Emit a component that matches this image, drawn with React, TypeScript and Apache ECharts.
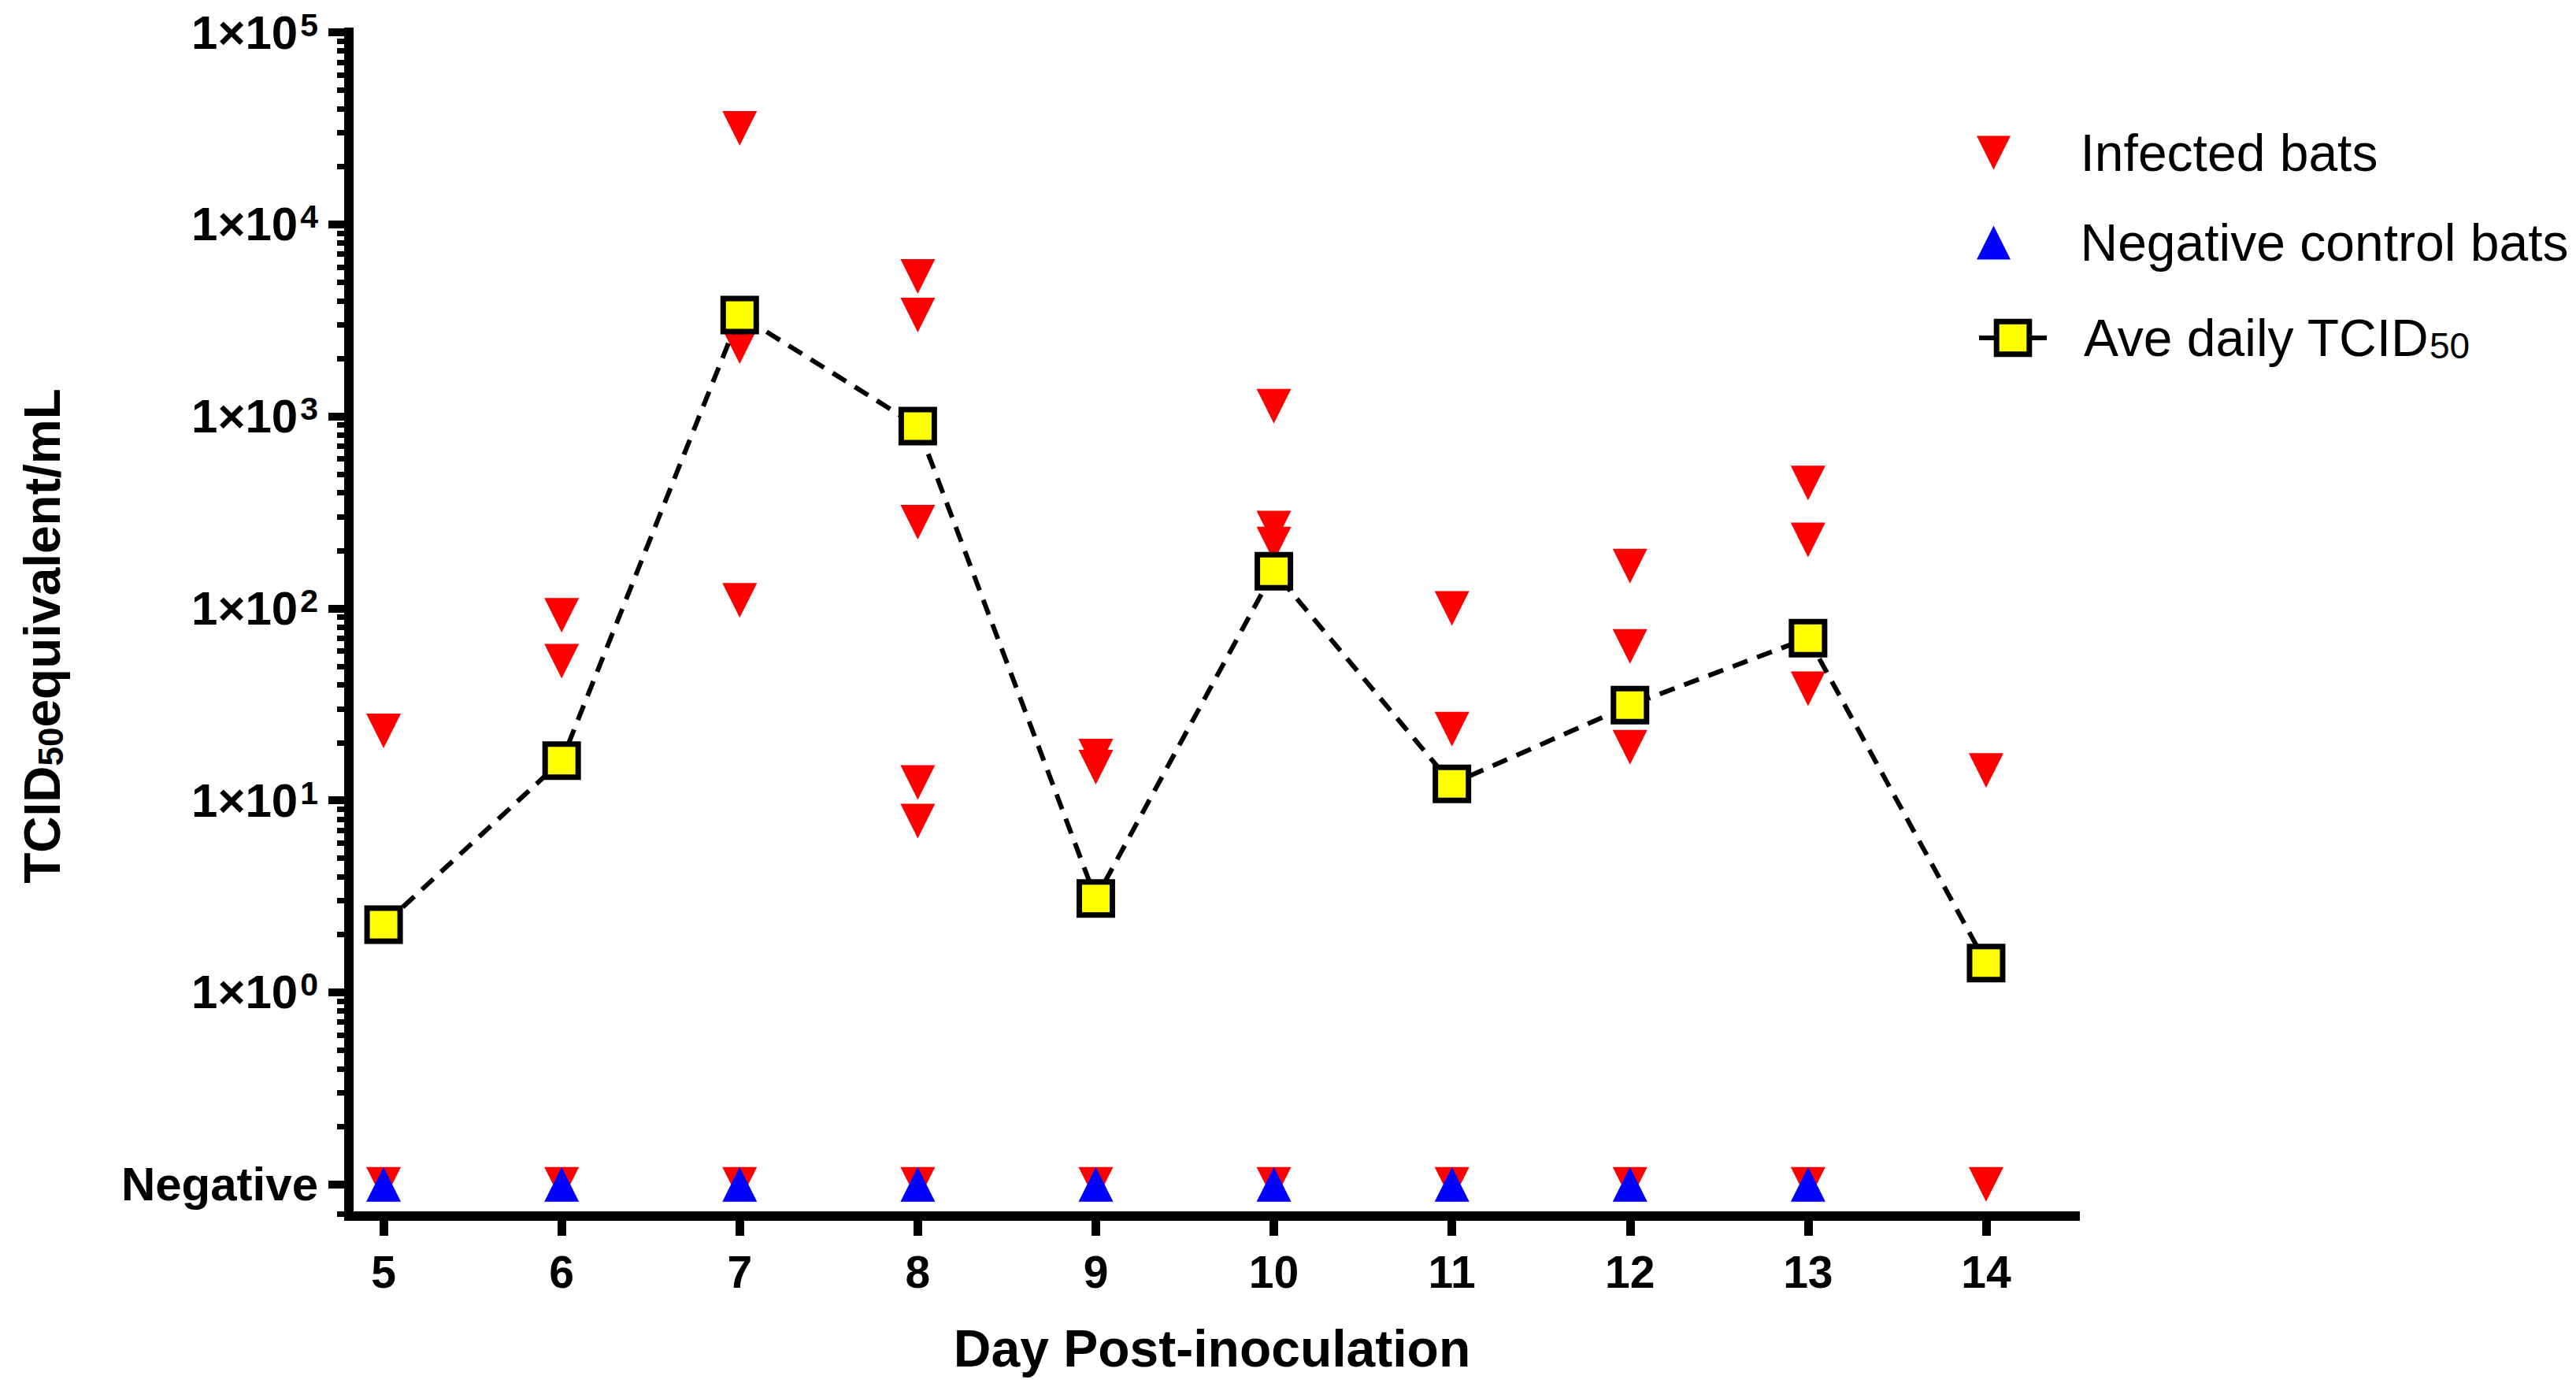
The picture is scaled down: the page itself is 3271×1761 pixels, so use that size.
import React, { useEffect, useRef } from "react";
import * as echarts from "echarts";

// ---- data ----
const days = [5, 6, 7, 8, 9, 10, 11, 12, 13, 14];
// TCID50 equivalent/mL per infected bat; 0 = Negative
const infectedByDay: number[][] = [
  [23, 0],
  [92, 53, 0],
  [31600, 2310, 110, 0],
  [5350, 3370, 281, 12.4, 7.8, 0],
  [17, 14.9, 0],
  [1130, 262, 216, 0],
  [100, 23.5, 0],
  [166, 63.4, 18.9, 0],
  [449, 227, 38.1, 0],
  [14.3, 0],
];
const controlDays = [5, 6, 7, 8, 9, 10, 11, 12, 13];
const controlValues = [0, 0, 0, 0, 0, 0, 0, 0, 0];
const averageDaily = [2.25, 16.1, 3370, 889, 3.08, 156, 12.2, 31.3, 70, 1.42];
const yTickExponents = [-1, 0, 1, 2, 3, 4, 5]; // -1 stands for "Negative"
const negativeLabel = "Negative";

const NEG_LOG = -1;
const toLog = (v: number) => (v > 0 ? Math.log10(v) : NEG_LOG);

const FONT = "'Liberation Sans', Arial, Helvetica, sans-serif";
const DOWN_TRI = "path://M0,0L10,0L5,10Z";
const UP_TRI = "path://M5,0L10,10L0,10Z";
const DASH = [20, 13];

function buildMinorTicks(): number[] {
  const out: number[] = [];
  for (let e = -1; e < 5; e++) {
    for (let k = 2; k <= 9; k++) out.push(Math.log10(k) + e);
  }
  out.push(Math.log10(0.07));
  return out;
}

export default function App() {
  const ref = useRef<HTMLDivElement>(null);
  useEffect(() => {
    if (!ref.current) return;
    const chart = echarts.init(ref.current, undefined, { renderer: "svg" });

    const infectedData: number[][] = [];
    days.forEach((d, i) => {
      infectedByDay[i].forEach((v) => infectedData.push([d, toLog(v)]));
    });
    const controlData = controlDays.map((d, i) => [d, toLog(controlValues[i])]);
    const avgData = days.map((d, i) => [d, toLog(averageDaily[i])]);

    const yMin = -1.165;
    const yMax = 5;

    const legendText = (pad: number, extra: any = {}) => ({
      fontFamily: FONT,
      fontSize: 66,
      lineHeight: 66,
      color: "#000",
      padding: [0, 0, 0, pad],
      ...extra,
    });

    const option: any = {
      animation: false,
      backgroundColor: "#ffffff",
      grid: { left: 443, top: 41, width: 2192, height: 1503, containLabel: false },
      xAxis: {
        type: "value",
        min: 4.805,
        max: 14.5,
        name: "Day Post-inoculation",
        nameLocation: "middle",
        nameGap: 135,
        nameTextStyle: { fontFamily: FONT, fontWeight: "bold", fontSize: 66, color: "#000" },
        axisLine: { show: true, onZero: false, lineStyle: { color: "#000", width: 12, cap: "square" } },
        axisTick: {
          show: true,
          length: 25,
          lineStyle: { color: "#000", width: 11 },
          customValues: days,
        },
        axisLabel: {
          show: true,
          margin: 42,
          fontFamily: FONT,
          fontWeight: "bold",
          fontSize: 57,
          color: "#000",
          customValues: days,
          formatter: (v: number) => String(Math.round(v)),
        },
        splitLine: { show: false },
      },
      yAxis: [
        {
          type: "value",
          min: yMin,
          max: yMax,
          name: "{m|TCID}{sub|50}{m|equivalent/mL}",
          nameLocation: "middle",
          nameRotate: 90,
          nameGap: 357,
          nameTextStyle: {
            fontFamily: FONT,
            fontWeight: "bold",
            fontSize: 64,
            color: "#000",
            padding: [0, 30, 0, 0],
            rich: {
              m: { fontFamily: FONT, fontWeight: "bold", fontSize: 64, lineHeight: 64, color: "#000" },
              sub: {
                fontFamily: FONT,
                fontWeight: "bold",
                fontSize: 44,
                lineHeight: 14,
                verticalAlign: "bottom",
                color: "#000",
              },
            },
          },
          axisLine: { show: true, onZero: false, lineStyle: { color: "#000", width: 12, cap: "square" } },
          axisTick: {
            show: true,
            length: 26,
            lineStyle: { color: "#000", width: 10 },
            customValues: yTickExponents,
          },
          axisLabel: {
            show: true,
            margin: 39,
            color: "#000",
            customValues: yTickExponents,
            formatter: (v: number) => {
              const e = Math.round(v);
              if (e === NEG_LOG) return `{m|${negativeLabel}}`;
              return `{m|1×10}{sup|${e}}`;
            },
            rich: {
              m: { fontFamily: FONT, fontWeight: "bold", fontSize: 60, lineHeight: 60, color: "#000" },
              sup: {
                fontFamily: FONT,
                fontWeight: "bold",
                fontSize: 41,
                lineHeight: 40,
                verticalAlign: "top",
                color: "#000",
                padding: [0, 0, 0, 3],
              },
            },
          },
          splitLine: { show: false },
        },
        {
          type: "value",
          min: yMin,
          max: yMax,
          position: "left",
          axisLine: { show: false, onZero: false },
          axisTick: {
            show: true,
            length: 15,
            lineStyle: { color: "#000", width: 7 },
            customValues: buildMinorTicks(),
          },
          axisLabel: { show: false },
          splitLine: { show: false },
        },
      ],
      legend: [
        {
          data: ["Infected bats"],
          orient: "vertical",
          left: 2505,
          top: 156,
          itemWidth: 86,
          itemHeight: 43,
          selectedMode: false,
          textStyle: legendText(62),
        },
        {
          data: ["Negative control bats"],
          orient: "vertical",
          left: 2505,
          top: 270,
          itemWidth: 86,
          itemHeight: 43,
          selectedMode: false,
          textStyle: legendText(62),
        },
        {
          data: ["Ave daily TCID50"],
          orient: "vertical",
          left: 2505,
          top: 391,
          itemWidth: 86,
          itemHeight: 52,
          selectedMode: false,
          formatter: () => "Ave daily TCID{sub|50}",
          itemStyle: { color: "#ffff00", borderColor: "#000", borderWidth: 7 },
          lineStyle: { color: "#000", width: 6, type: DASH },
          textStyle: legendText(42, {
            rich: {
              sub: { fontFamily: FONT, fontSize: 46, lineHeight: 14, verticalAlign: "bottom", color: "#000" },
            },
          }),
        },
      ],
      series: [
        {
          name: "Infected bats",
          type: "scatter",
          yAxisIndex: 0,
          symbol: DOWN_TRI,
          symbolSize: 44,
          itemStyle: { color: "#ff0000", opacity: 1 },
          data: infectedData,
          z: 2,
        },
        {
          name: "Negative control bats",
          type: "scatter",
          yAxisIndex: 0,
          symbol: UP_TRI,
          symbolSize: 44,
          itemStyle: { color: "#0000ff", opacity: 1 },
          data: controlData,
          z: 3,
        },
        {
          name: "Ave daily TCID50",
          type: "line",
          yAxisIndex: 0,
          symbol: "rect",
          symbolSize: 42,
          showSymbol: true,
          lineStyle: { color: "#000", width: 6, type: DASH },
          itemStyle: { color: "#ffff00", borderColor: "#000", borderWidth: 7 },
          data: avgData,
          z: 4,
        },
      ],
    };

    chart.setOption(option);
    return () => chart.dispose();
  }, []);

  return (
    <div
      ref={ref}
      style={{ position: "absolute", left: 0, top: 0, width: 3271, height: 1761, background: "#fff" }}
    />
  );
}
